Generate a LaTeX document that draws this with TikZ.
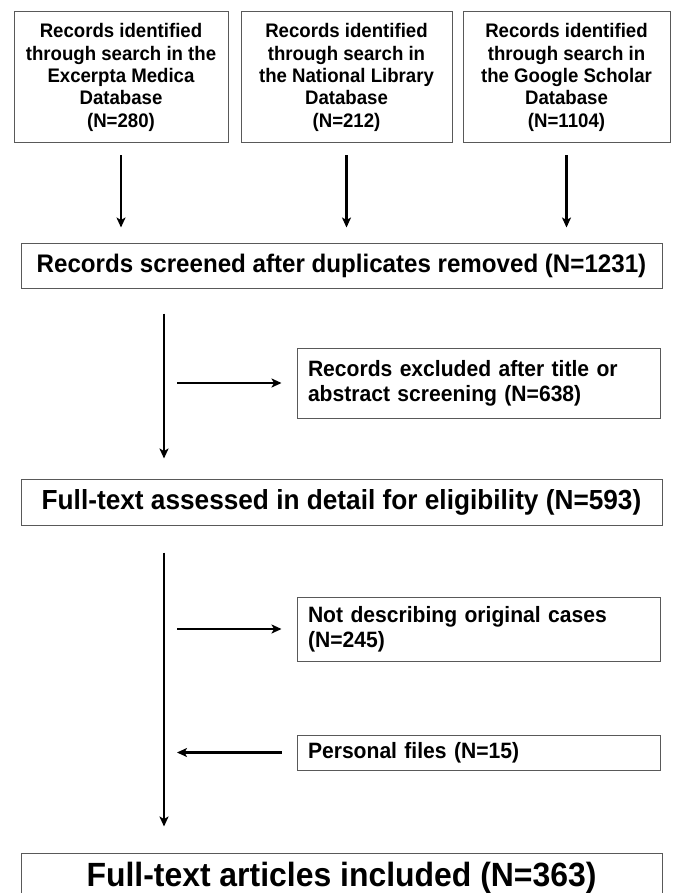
\documentclass[tikz,border=0pt]{standalone}
\usepackage{fontspec}
\setmainfont{Liberation Sans}[FakeStretch=0.95]
\usetikzlibrary{arrows.meta}
\begin{document}
\begin{tikzpicture}[x=1pt,y=-1pt,
  box/.style={draw=black!65, line width=1pt, inner sep=0pt},
  topbox/.style={box, align=center, minimum height=131pt,
    font=\bfseries\fontsize{19.6}{22.3}\selectfont},
  sidebox/.style={box, align=left, inner xsep=11pt, text width=341pt,
    font=\bfseries\fontsize{22.2}{25}\selectfont},
  widebox/.style={box, align=center, minimum width=641pt},
  arr/.style={line width=2.6pt, -{Stealth[length=10pt,width=9pt,inset=2.5pt]}},
]
\useasboundingbox (0,0) rectangle (676,893);
\fill[white] (0,0) rectangle (676,893);

\node[topbox, minimum width=214pt] (b1) at (121,77.5)
  {Records identified\\through search in the\\Excerpta Medica\\Database\\(N=280)};
\node[topbox, minimum width=211pt] (b2) at (346.5,77.5)
  {Records identified\\through search in\\the National Library\\Database\\(N=212)};
\node[topbox, minimum width=207pt] (b3) at (566.5,77.5)
  {Records identified\\through search in\\the Google Scholar\\Database\\(N=1104)};

\node[widebox, minimum height=45pt, font=\bfseries\fontsize{25.4}{28}\selectfont] (scr) at (341.5,265.5)
  {Records screened after duplicates removed (N=1231)};

\node[sidebox, minimum height=70pt] (exc) at (478.5,383)
  {Records excluded after title or\\abstract screening (N=638)};

\node[widebox, minimum height=46pt, font=\bfseries\fontsize{27.6}{30}\selectfont] (ful) at (341.5,502)
  {Full-text assessed in detail for eligibility (N=593)};

\node[sidebox, minimum height=64pt] (nd) at (478.5,629)
  {Not describing original cases\\(N=245)};

\node[sidebox, minimum height=35pt] (pf) at (478.5,752.5)
  {Personal files (N=15)};

\node[widebox, minimum height=50pt, font=\bfseries\fontsize{33.6}{38}\selectfont] (fin) at (341.5,878)
  {Full-text articles included (N=363)};

\coordinate (col) at (164,0);

\draw[arr, shorten <=12pt, shorten >=15pt] (b1.south) -- (b1.south |- scr.north);
\draw[arr, shorten <=12pt, shorten >=15pt] (b2.south) -- (b2.south |- scr.north);
\draw[arr, shorten <=12pt, shorten >=15pt] (b3.south) -- (b3.south |- scr.north);

\draw[arr, shorten <=25pt, shorten >=20pt] (col |- scr.south) -- (col |- ful.north);
\draw[arr, shorten <=13pt, shorten >=15pt] (col |- exc.west) -- (exc.west);

\draw[arr, shorten <=27pt, shorten >=26pt] (col |- ful.south) -- (col |- fin.north);
\draw[arr, shorten <=13pt, shorten >=15pt] (col |- nd.west) -- (nd.west);
\draw[arr, shorten <=15pt, shorten >=13pt] (pf.west) -- (col |- pf.west);
\end{tikzpicture}
\end{document}
